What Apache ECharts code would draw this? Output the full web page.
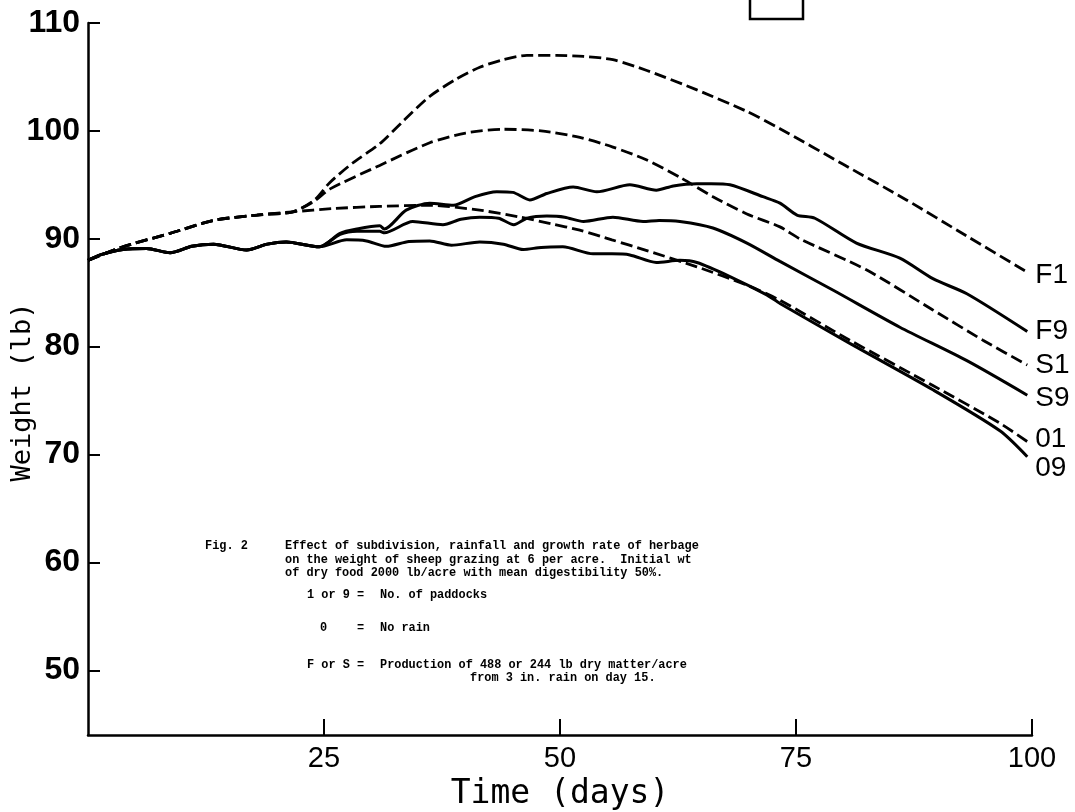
<!DOCTYPE html>
<html>
<head>
<meta charset="utf-8">
<script src="https://cdn.jsdelivr.net/npm/echarts@6/dist/echarts.min.js"></script>
<style>
html,body{margin:0;padding:0;background:#fff;}
#chart{width:1075px;height:812px;}
</style>
</head>
<body>
<div id="chart"></div>
<script>
// ---- data (day, weight lb) ----
const xTicks = [25, 50, 75, 100];
const yTicks = [50, 60, 70, 80, 90, 100, 110];

const F1 = [[0,88.0],[3.7,89.25],[8.7,90.5],[13.3,91.7],[17.9,92.2],[21.7,92.5],[24,93.6],[25.6,95.2],[28,97.0],[30.9,98.8],[33.5,101.0],[36.2,103.2],[39,104.8],[41.5,105.9],[44,106.6],[46.5,107.0],[49.6,107.0],[52.5,106.9],[55.6,106.6],[59.2,105.6],[64.5,103.8],[69.8,101.8],[73.3,100.2],[80,96.9],[86.7,93.6],[93,90.3],[99.5,86.9]];
const S1 = [[0,88.0],[3.7,89.25],[8.7,90.5],[13.3,91.7],[17.9,92.2],[21.7,92.5],[24,93.5],[25.6,94.6],[30.9,96.8],[36.2,98.9],[40,99.8],[44,100.15],[48,100.0],[52.1,99.4],[55.6,98.5],[59.2,97.3],[62.7,95.7],[66.2,93.9],[69.8,92.3],[73.3,91.1],[75.4,90.0],[82.5,87.1],[89.5,83.4],[94.8,80.6],[99.5,78.3]];
const D01 = [[0,88.0],[3.7,89.25],[8.7,90.5],[13.3,91.7],[17.9,92.2],[21.7,92.5],[26,92.8],[30.9,93.0],[36.2,93.1],[41.5,92.65],[45.8,92.0],[49,91.4],[52.1,90.8],[55.5,89.9],[59.2,88.9],[64.5,87.4],[69.8,85.7],[73.3,84.3],[80.7,80.6],[89.5,76.4],[96.6,72.9],[99.5,71.2]];
const F9 = [[0,88.0],[1.3,88.5],[3.7,89.0],[6.2,89.1],[8.7,88.7],[11,89.3],[13.3,89.5],[16.8,88.95],[19,89.5],[21,89.7],[24.5,89.25],[26.7,90.5],[28.5,90.9],[30.9,91.2],[31.4,90.9],[33.7,92.65],[36.2,93.3],[38.7,93.1],[41,93.9],[43.3,94.35],[45,94.3],[46.8,93.6],[48.6,94.2],[51.4,94.8],[53.9,94.35],[57.4,95.0],[60.2,94.5],[62,94.9],[64.5,95.1],[66,95.1],[68,95.0],[71.5,93.9],[73.3,93.3],[75.1,92.2],[77,91.9],[81.4,89.6],[86,88.2],[89.5,86.3],[93.1,84.9],[99.5,81.4]];
const S9 = [[0,88.0],[1.3,88.5],[3.7,89.0],[6.2,89.1],[8.7,88.7],[11,89.3],[13.3,89.5],[16.8,88.95],[19,89.5],[21,89.7],[24.5,89.25],[26.7,90.4],[28.5,90.7],[30.9,90.7],[31.4,90.55],[34.4,91.6],[37.6,91.3],[39.5,91.8],[41.5,92.0],[43.5,91.9],[45.1,91.3],[46.5,91.9],[48.6,92.1],[50.5,92.0],[52.5,91.6],[55.6,92.0],[58.8,91.6],[60.5,91.7],[62.7,91.6],[66.2,91.0],[69.8,89.6],[73.3,87.9],[79,85.2],[86,81.8],[93.1,78.7],[99.5,75.5]];
const D09 = [[0,88.0],[1.3,88.5],[3.7,89.0],[6.2,89.1],[8.7,88.7],[11,89.3],[13.3,89.5],[16.8,88.95],[19,89.5],[21,89.7],[24.5,89.25],[27.4,89.9],[29.5,89.8],[31.6,89.3],[34,89.75],[36.2,89.8],[38.5,89.4],[41.5,89.7],[44,89.5],[46.1,89.0],[48,89.2],[50.3,89.25],[53.5,88.6],[55.5,88.6],[57.4,88.5],[60.2,87.8],[62.7,88.0],[64.5,87.8],[68,86.5],[71.9,84.8],[73.3,84.0],[80.7,80.3],[89.5,76.0],[96.6,72.2],[99.5,69.8]];

const seriesDefs = [
  {name:'F1', data:F1, dashed:true,  dy:3},
  {name:'F9', data:F9, dashed:false, dy:0},
  {name:'S1', data:S1, dashed:true,  dy:0},
  {name:'S9', data:S9, dashed:false, dy:3},
  {name:'01', data:D01, dashed:true, dy:-2},
  {name:'09', data:D09, dashed:false, dy:12}
];

const noteLines = [
  ['Fig. 2', 205, 546],
  ['Effect of subdivision, rainfall and growth rate of herbage', 285, 546],
  ['on the weight of sheep grazing at 6 per acre.  Initial wt', 285, 560],
  ['of dry food 2000 lb/acre with mean digestibility 50%.', 285, 573],
  ['1 or 9', 307, 595], ['=', 357, 595], ['No. of paddocks', 380, 595],
  ['0', 320, 628], ['=', 357, 628], ['No rain', 380, 628],
  ['F or S', 307, 665], ['=', 357, 665], ['Production of 488 or 244 lb dry matter/acre', 380, 665],
  ['from 3 in. rain on day 15.', 470, 678]
];

const SANS = '"Liberation Sans", Arial, sans-serif';
const TITLE = '"DejaVu Sans Mono", monospace';
const chart = echarts.init(document.getElementById('chart'), null, {renderer:'canvas'});

const option = {
  backgroundColor:'#fff',
  animation:false,
  grid:{left:88, right:43, top:23, bottom:77, containLabel:false, outerBoundsMode:'none'},
  xAxis:{
    type:'value', min:0, max:100,
    name:'Time (days)', nameLocation:'middle', nameGap:37,
    nameTextStyle:{fontFamily:TITLE, fontSize:33, color:'#000'},
    axisLine:{show:true, onZero:false, lineStyle:{color:'#000', width:2.5}},
    axisTick:{show:true, inside:true, length:16, customValues:xTicks, lineStyle:{color:'#000', width:2}},
    axisLabel:{customValues:xTicks, margin:9, fontSize:29, fontFamily:SANS, color:'#000'},
    splitLine:{show:false}
  },
  yAxis:{
    type:'value', min:44, max:110,
    axisLine:{show:true, lineStyle:{color:'#000', width:2.5}},
    axisTick:{show:true, inside:true, length:12, customValues:yTicks, lineStyle:{color:'#000', width:2}},
    axisLabel:{customValues:yTicks, margin:8, fontSize:32, fontWeight:'bold', fontFamily:SANS, color:'#000'},
    splitLine:{show:false}
  },
  series: seriesDefs.map(s => ({
    name:s.name, type:'line', data:s.data, showSymbol:false, smooth:0.25,
    lineStyle:{color:'#000', width:s.dashed?2.8:3, type:s.dashed?[12,5]:'solid'},
    endLabel:{show:true, formatter:'{a}', distance:8, offset:[0, s.dy], fontSize:28, fontFamily:SANS, color:'#000'},
    emphasis:{disabled:true}
  })),
  graphic: [
    {type:'polyline', shape:{points:[[750,-2],[750,19],[803,19],[803,-2]]}, style:{stroke:'#000', lineWidth:2.5, fill:null}, silent:true},
    {type:'text', x:23, y:392, rotation:Math.PI/2, silent:true,
     style:{text:'Weight (lb)', fill:'#000', fontFamily:TITLE, fontSize:27, align:'center', verticalAlign:'middle'}}
  ].concat(noteLines.map(n => ({
    type:'text', x:n[1], y:n[2], silent:true,
    style:{text:n[0], fill:'#000', fontFamily:'"Liberation Mono", "DejaVu Sans Mono", monospace', fontSize:11.9, fontWeight:'bold', verticalAlign:'middle', align:'left'}
  })))
};
chart.setOption(option);
</script>
</body>
</html>
